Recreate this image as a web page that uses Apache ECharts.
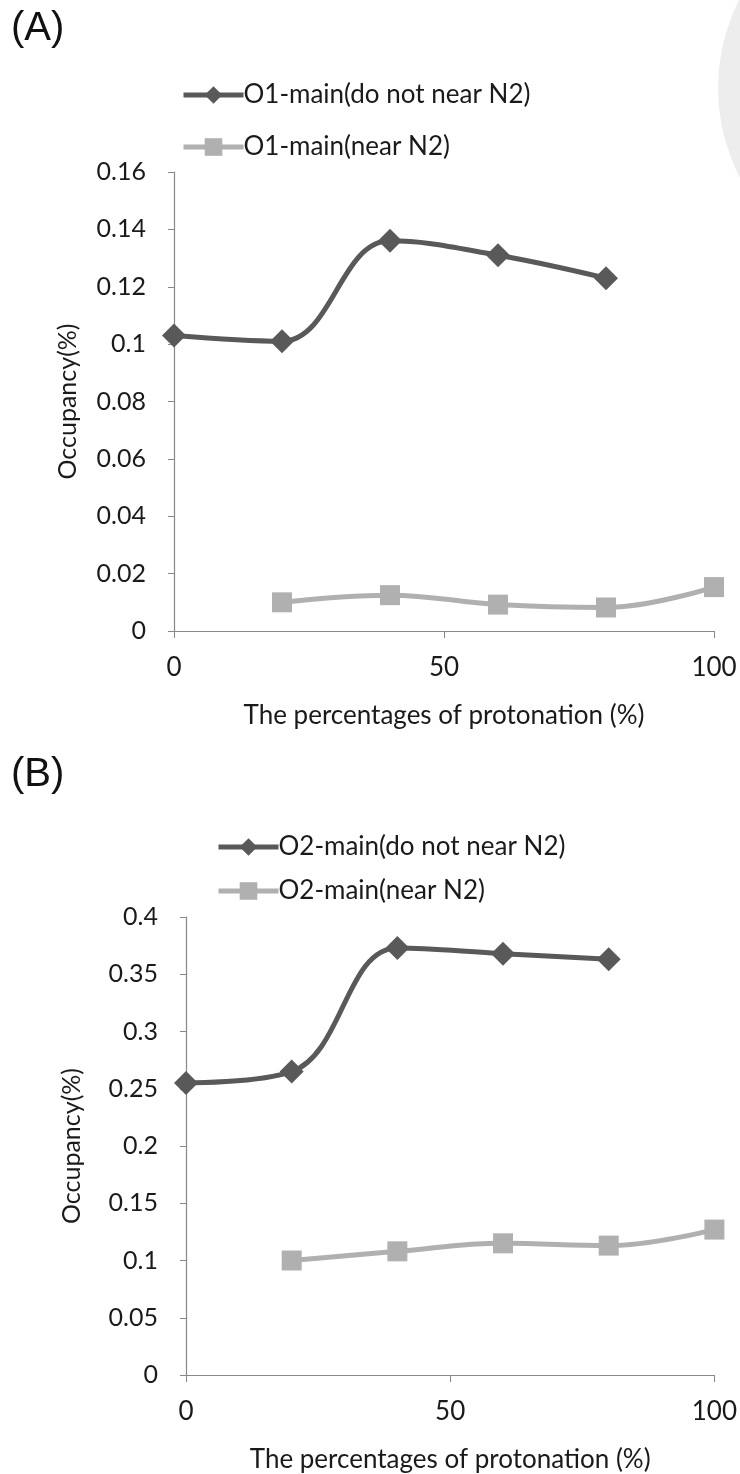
<!DOCTYPE html>
<html>
<head>
<meta charset="utf-8">
<script src="https://cdn.jsdelivr.net/npm/echarts@6/dist/echarts.min.js"></script>
<style>
  html, body { margin: 0; padding: 0; background: #ffffff; }
  #chart { width: 740px; height: 1474px; }
</style>
</head>
<body>
<div id="chart"></div>
<script>
// Protonation percentage (x) shared by both panels
const protonation = [0, 20, 40, 60, 80, 100];

// Panel (A): O1-main occupancy
const o1FarLabel = 'O1-main(do not near N2)';
const o1NearLabel = 'O1-main(near N2)';
const o1Far = [0.103, 0.101, 0.136, 0.131, 0.123, null];
const o1Near = [null, 0.010, 0.0125, 0.0092, 0.0082, 0.0153];

// Panel (B): O2-main occupancy
const o2FarLabel = 'O2-main(do not near N2)';
const o2NearLabel = 'O2-main(near N2)';
const o2Far = [0.255, 0.265, 0.373, 0.368, 0.363, null];
const o2Near = [null, 0.100, 0.108, 0.115, 0.113, 0.127];

const xTitle = 'The percentages of protonation (%)';
const yTitle = 'Occupancy(%)';

const FONT = 'Lato';
const DARK = '#595959';
const LIGHT = '#b0b0b0';
const AXIS = '#888888';
const TEXT = '#1a1a1a';

function pairs(vals) {
  const out = [];
  vals.forEach((v, i) => { if (v !== null) out.push([protonation[i], v]); });
  return out;
}

function xAxisCfg(gridIndex) {
  return {
    type: 'value', gridIndex, min: 0, max: 100, interval: 50,
    name: xTitle, nameLocation: 'middle', nameGap: 72,
    nameTextStyle: { fontFamily: FONT, fontSize: 26, color: TEXT },
    axisLine: { lineStyle: { color: AXIS, width: 1.2 } },
    axisTick: { show: true, length: 7, lineStyle: { color: AXIS } },
    axisLabel: { fontFamily: FONT, fontSize: 26, color: TEXT, margin: 24 },
    splitLine: { show: false }
  };
}

function yAxisCfg(gridIndex, max, interval, gap) {
  return {
    type: 'value', gridIndex, min: 0, max, interval,
    name: yTitle, nameLocation: 'middle', nameGap: gap, nameRotate: 90,
    nameTextStyle: { fontFamily: FONT, fontSize: 25, color: TEXT },
    axisLine: { show: true, lineStyle: { color: AXIS, width: 1.2 } },
    axisTick: { show: true, length: 6, lineStyle: { color: AXIS } },
    axisLabel: { fontFamily: FONT, fontSize: 25, color: TEXT, margin: 28 },
    splitLine: { show: false }
  };
}

function lineSeries(name, vals, idx, color, symbol, size) {
  return {
    name, type: 'line', xAxisIndex: idx, yAxisIndex: idx,
    data: pairs(vals), smooth: 0.4,
    symbol, symbolSize: size,
    lineStyle: { color, width: 5 },
    itemStyle: { color },
    z: color === DARK ? 3 : 2
  };
}

function legendCfg(left, top, gap, names) {
  return {
    left, top, orient: 'vertical', itemWidth: 60, itemHeight: 22, itemGap: gap,
    data: names,
    lineStyle: { width: 5 },
    textStyle: { fontFamily: FONT, fontSize: 26, color: TEXT, padding: [0, 0, 0, -5] }
  };
}

const chart = echarts.init(document.getElementById('chart'), null, { renderer: 'canvas' });
chart.setOption({
  backgroundColor: '#ffffff',
  animation: false,
  title: [
    { text: '(A)', left: 6, top: 4, textStyle: { fontFamily: 'Liberation Sans', fontSize: 40, fontWeight: 'normal', color: '#111' } },
    { text: '(B)', left: 6, top: 750, textStyle: { fontFamily: 'Liberation Sans', fontSize: 40, fontWeight: 'normal', color: '#111' } }
  ],
  graphic: [{
    type: 'circle', shape: { cx: 913, cy: 88, r: 184 },
    style: { fill: 'none', stroke: '#ededed', lineWidth: 22 }, z: -1, silent: true
  }],
  legend: [
    legendCfg(176, 77, 26, [o1FarLabel, o1NearLabel]),
    legendCfg(211, 829, 18, [o2FarLabel, o2NearLabel])
  ],
  grid: [
    { left: 174, right: 26, top: 172, height: 459 },
    { left: 186, right: 24, top: 917, height: 459 }
  ],
  xAxis: [xAxisCfg(0), xAxisCfg(1)],
  yAxis: [yAxisCfg(0, 0.16, 0.02, 94), yAxisCfg(1, 0.4, 0.05, 102)],
  series: [
    lineSeries(o1FarLabel, o1Far, 0, DARK, 'diamond', 24),
    lineSeries(o1NearLabel, o1Near, 0, LIGHT, 'rect', 20),
    lineSeries(o2FarLabel, o2Far, 1, DARK, 'diamond', 24),
    lineSeries(o2NearLabel, o2Near, 1, LIGHT, 'rect', 20)
  ]
});
</script>
</body>
</html>
